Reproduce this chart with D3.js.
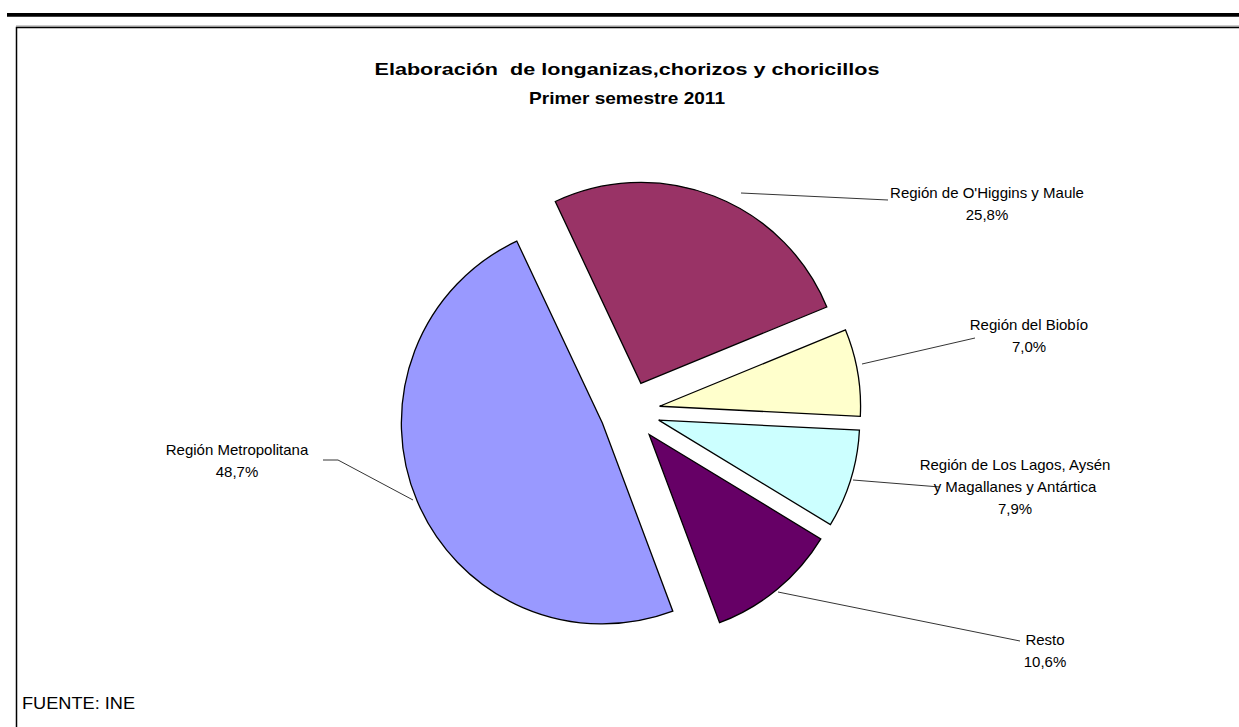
<!DOCTYPE html>
<html>
<head>
<meta charset="utf-8">
<script src="https://cdn.jsdelivr.net/npm/d3@7"></script>
<style>
  html, body { margin: 0; padding: 0; background: #fff; }
  svg { display: block; }
  text { font-family: "Liberation Sans", Arial, sans-serif; fill: #000; }
</style>
</head>
<body>
<script>
// ---- data ----
const categories = [
  "Región de O'Higgins y Maule",
  "Región del Biobío",
  "Región de Los Lagos, Aysén y Magallanes y Antártica",
  "Resto",
  "Región Metropolitana"
];
const values = [25.8, 7.0, 7.9, 10.6, 48.7];
const valueLabels = ["25,8%", "7,0%", "7,9%", "10,6%", "48,7%"];
const labelLines = [
  ["Región de O'Higgins y Maule"],
  ["Región del Biobío"],
  ["Región de Los Lagos, Aysén", "y Magallanes y Antártica"],
  ["Resto"],
  ["Región Metropolitana"]
];
const colors = ["#993366", "#FFFFCC", "#CCFFFF", "#660066", "#9999FF"];
const titleLines = ["Elaboración  de longanizas,chorizos y choricillos", "Primer semestre 2011"];
const sourceText = "FUENTE: INE";

// ---- layout ----
const W = 1239, H = 727;
const cx = 630, cy = 411.3, R = 201, explode = 30;
const startDeg = -25.2;
const titleWidths = [505, 196];
// label anchor (center x, first line baseline y) and leader line points
const labelPos = [
  {x: 987, y: 198, pts: [[741, 193], [888, 200]]},
  {x: 1029, y: 330, pts: [[862, 364], [975, 338]]},
  {x: 1015, y: 470, pts: [[853, 480], [940, 487]]},
  {x: 1045, y: 645, pts: [[778, 592], [1020, 641]]},
  {x: 237, y: 455, pts: [[323, 460], [338, 460], [413, 500]]}
];

const svg = d3.select("body").append("svg").attr("width", W).attr("height", H);

// top rule
svg.append("line").attr("x1", 7).attr("x2", W).attr("y1", 14.8).attr("y2", 14.8)
  .attr("stroke", "#000").attr("stroke-width", 3.8);
// chart frame
svg.append("line").attr("x1", 16).attr("x2", W).attr("y1", 26).attr("y2", 26)
  .attr("stroke", "#999").attr("stroke-width", 1);
svg.append("path").attr("d", `M16.5,${H + 5} V27.5 H${W + 5}`)
  .attr("fill", "none").attr("stroke", "#000").attr("stroke-width", 1.5);

// title
const title = svg.append("text").attr("text-anchor", "middle")
  .attr("font-size", 17).attr("font-weight", "bold").style("white-space", "pre");
titleLines.forEach((t, i) => title.append("tspan")
  .attr("x", 627).attr("y", 75 + i * 29)
  .attr("textLength", titleWidths[i]).attr("lengthAdjust", "spacingAndGlyphs")
  .text(t));

// pie
const pie = d3.pie().sort(null).value(d => d)
  .startAngle(startDeg * Math.PI / 180)
  .endAngle(startDeg * Math.PI / 180 + 2 * Math.PI);
const arcs = pie(values);
const arc = d3.arc().innerRadius(0).outerRadius(R);

const g = svg.append("g").attr("transform", `translate(${cx},${cy})`);
g.selectAll("path").data(arcs).join("path")
  .attr("transform", d => {
    const a = (d.startAngle + d.endAngle) / 2;
    return `translate(${explode * Math.sin(a)},${-explode * Math.cos(a)})`;
  })
  .attr("d", arc)
  .attr("fill", (d, i) => colors[i])
  .attr("stroke", "#000").attr("stroke-width", 1.3).attr("stroke-linejoin", "miter");

// leader lines
svg.selectAll("polyline.leader").data(labelPos).join("polyline")
  .attr("class", "leader")
  .attr("points", d => d.pts.map(p => p.join(",")).join(" "))
  .attr("fill", "none").attr("stroke", "#000").attr("stroke-width", 0.8);

// labels
labelPos.forEach((p, i) => {
  const t = svg.append("text").attr("text-anchor", "middle").attr("font-size", 15);
  const lines = labelLines[i].concat([valueLabels[i]]);
  lines.forEach((l, j) => t.append("tspan").attr("x", p.x).attr("y", p.y + j * 22).text(l));
});

// source
svg.append("text").attr("x", 22).attr("y", 709).attr("font-size", 16)
  .attr("textLength", 113).attr("lengthAdjust", "spacingAndGlyphs").text(sourceText);
</script>
</body>
</html>
